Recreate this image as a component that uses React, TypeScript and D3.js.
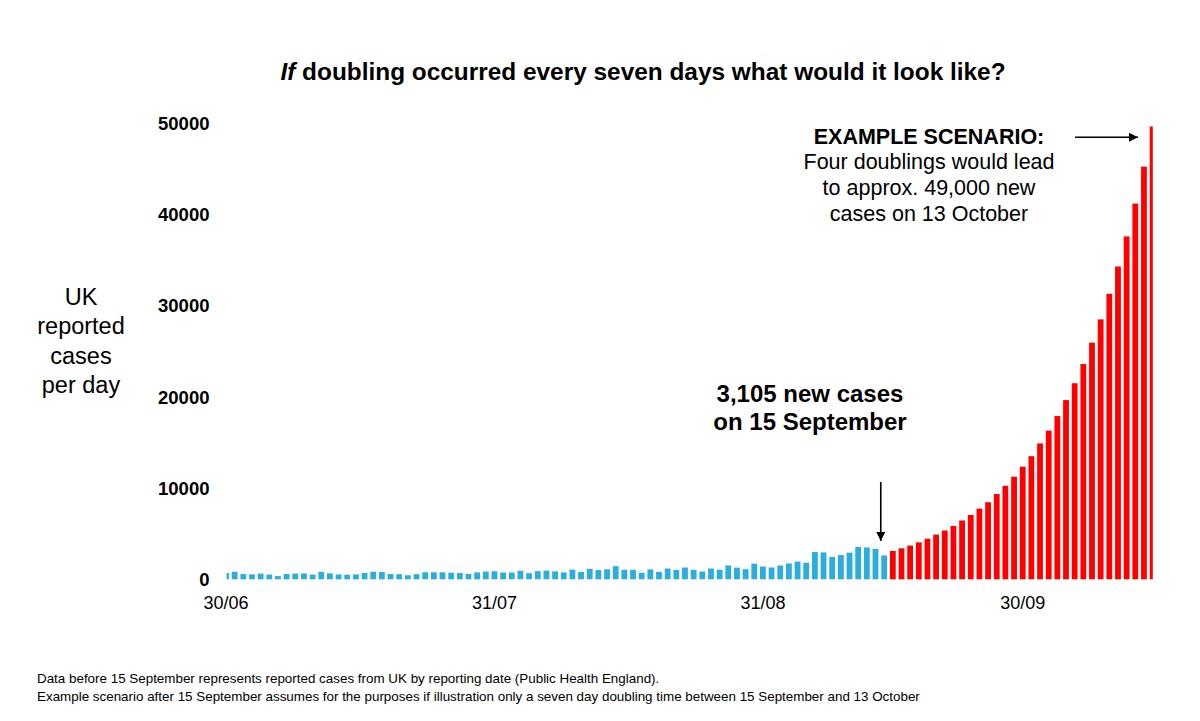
import React from "react";
import * as d3 from "d3";

// ---- data ----
const START = new Date(2020, 5, 30); // 30 June 2020
// Reported UK cases per day, 30/06 .. 14/09 (blue)
const reportedCases = [
  689, 829, 576, 544, 624, 516, 352, 581, 630, 642, 512, 820, 650, 530, 500, 538,
  687, 827, 796, 580, 560, 445, 560, 769, 768, 767, 726, 685, 581, 763, 846, 880,
  743, 744, 938, 670, 892, 950, 871, 758, 1062, 816, 1148, 1009, 1100, 1441, 1050,
  1040, 713, 1089, 812, 1182, 1033, 1288, 1041, 853, 1184, 1048, 1522, 1276, 1108,
  1715, 1406, 1295, 1508, 1735, 1940, 1813, 2988, 2948, 2460, 2659, 2919, 3539,
  3497, 3330, 2621,
];
// Example scenario from 15/09 (red)
const scenarioCases = [
  3105, 3400, 3700, 4050, 4450, 4900, 5350, 5850, 6450, 7050, 7750, 8450, 9350,
  10250, 11250, 12350, 13500, 14900, 16300, 17900, 19650, 21500, 23600, 25950,
  28500, 31300, 34300, 37600, 41200, 45250, 49650,
];
const xTickLabels = ["30/06", "31/07", "31/08", "30/09"];
const yTicks = [0, 10000, 20000, 30000, 40000, 50000];
const yLabelLines = ["UK", "reported", "cases", "per day"];
const scenarioLines = ["Four doublings would lead", "to approx. 49,000 new", "cases on 13 October"];
const footerLines = [
  "Data before 15 September represents reported cases from UK by reporting date (Public Health England).",
  "Example scenario after 15 September assumes for the purposes if illustration only a seven day doubling time between 15 September and 13 October",
];

const BLUE = "#2badde";
const RED = "#fe0000";
const FONT = "'Liberation Sans', Arial, Helvetica, sans-serif";

const fmt = d3.timeFormat("%d/%m");
const allValues = [...reportedCases, ...scenarioCases];
const dates = d3.timeDay.range(START, d3.timeDay.offset(START, allValues.length));
const bars = dates.map((d, i) => ({
  key: fmt(d),
  value: allValues[i],
  scenario: i >= reportedCases.length,
}));

export default function App() {
  const step = 8.66;
  const r0 = 226 - step / 2;
  const x = d3
    .scaleBand<string>()
    .domain(bars.map((b) => b.key))
    .range([r0, r0 + step * bars.length])
    .paddingInner(0.33)
    .paddingOuter(0.165);
  const y = d3.scaleLinear().domain([0, 50000]).range([579.3, 123.3]);
  const bw = x.bandwidth();
  const lastReported = bars[reportedCases.length - 1];
  const arrowX = (x(lastReported.key) as number) - 0.5;

  return (
    <svg
      width={1200}
      height={721}
      style={{ position: "absolute", left: 0, top: 0, background: "#fff" }}
      fontFamily={FONT}
    >
      <defs>
        <clipPath id="plotClip">
          <rect x={226.6} y={0} width={1152.8 - 226.6} height={721} />
        </clipPath>
        <marker id="head" viewBox="0 0 10 10" refX="10" refY="5" markerWidth="9" markerHeight="9" markerUnits="userSpaceOnUse" orient="auto">
          <path d="M0,0 L10,5 L0,10 z" fill="#000" />
        </marker>
      </defs>
      <rect x={0} y={0} width={1200} height={721} fill="#fff" />

      {/* title */}
      <text x={643} y={80} textAnchor="middle" fontSize={24.4} fontWeight="bold" fill="#000">
        <tspan fontStyle="italic">If</tspan> doubling occurred every seven days what would it look like?
      </text>

      {/* y axis label */}
      <text x={81} y={305} textAnchor="middle" fontSize={23.5} fill="#000">
        {yLabelLines.map((l, i) => (
          <tspan key={i} x={81} y={305 + i * 29.4}>
            {l}
          </tspan>
        ))}
      </text>

      {/* y ticks */}
      {yTicks.map((t) => (
        <text key={t} x={209.5} y={y(t)} dy="0.36em" textAnchor="end" fontSize={18.5} fontWeight="bold" fill="#000">
          {t}
        </text>
      ))}

      {/* bars */}
      <g clipPath="url(#plotClip)">
        {bars.map((b) => (
          <rect
            key={b.key}
            x={x(b.key)}
            y={y(b.value)}
            width={bw}
            height={y(0) - y(b.value)}
            fill={b.scenario ? RED : BLUE}
          />
        ))}
      </g>

      {/* x tick labels */}
      {xTickLabels.map((l) => (
        <text key={l} x={(x(l) as number) + bw / 2} y={609} textAnchor="middle" fontSize={18} fill="#000">
          {l}
        </text>
      ))}

      {/* annotation 15 Sep */}
      <text x={810} y={402} textAnchor="middle" fontSize={24} fontWeight="bold" fill="#000">
        <tspan x={810} y={402}>3,105 new cases</tspan>
        <tspan x={810} y={430}>on 15 September</tspan>
      </text>
      <line x1={arrowX} y1={482} x2={arrowX} y2={541} stroke="#000" strokeWidth={1.6} markerEnd="url(#head)" />

      {/* example scenario */}
      <text x={929} y={144} textAnchor="middle" fontSize={21.5} fontWeight="bold" fill="#000">
        EXAMPLE SCENARIO:
      </text>
      <text x={929} y={169} textAnchor="middle" fontSize={21.5} fill="#000">
        {scenarioLines.map((l, i) => (
          <tspan key={i} x={929} y={169 + i * 25.8}>
            {l}
          </tspan>
        ))}
      </text>
      <line x1={1075} y1={137.3} x2={1138} y2={137.3} stroke="#000" strokeWidth={1.6} markerEnd="url(#head)" />

      {/* footer */}
      {footerLines.map((l, i) => (
        <text key={i} x={37} y={683 + i * 18} fontSize={13.4} fill="#000">
          {l}
        </text>
      ))}
    </svg>
  );
}
